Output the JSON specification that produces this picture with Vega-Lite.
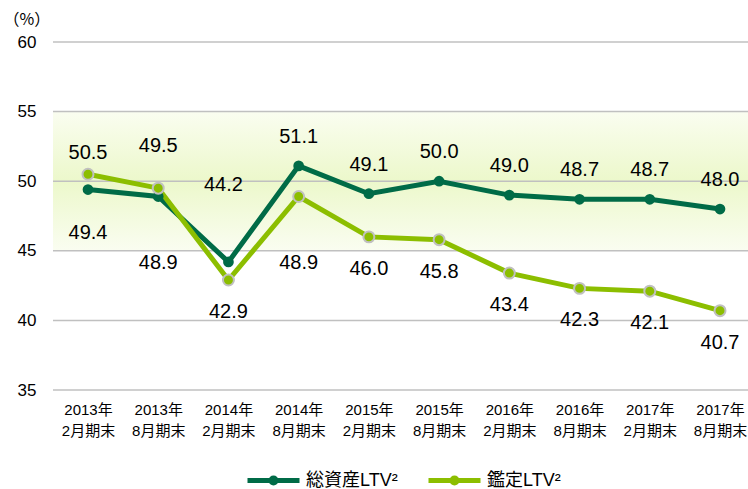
{
  "$schema": "https://vega.github.io/schema/vega-lite/v6.json",
  "width": 695,
  "height": 348,
  "autosize": {"type": "none"},
  "padding": {"left": 53, "top": 42, "right": 0, "bottom": 99},
  "background": "white",
  "config": {
    "view": {"stroke": null},
    "font": "Liberation Sans",
    "axisY": {"grid": false, "domain": false, "ticks": false, "labelPadding": 17, "labelFontSize": 17, "labelColor": "#000", "labelFont": "Liberation Sans", "titleAngle": 0, "titleAlign": "left", "titleBaseline": "middle", "titleX": -50, "titleY": -23, "titleFontSize": 16, "titleFontWeight": "normal", "titleFont": "Noto Sans CJK JP", "titleColor": "#000"},
    "axisX": {"domain": false, "ticks": false, "grid": false, "labelPadding": 12, "labelFontSize": 15, "labelLineHeight": 21, "labelColor": "#000", "labelFont": "Liberation Sans, Noto Sans CJK JP", "labelAngle": 0}
  },
  "datasets": {
    "ltv": [
      {"period": "2013年2月期末", "series": "総資産LTV²", "value": 49.4},
      {"period": "2013年8月期末", "series": "総資産LTV²", "value": 48.9},
      {"period": "2014年2月期末", "series": "総資産LTV²", "value": 44.2},
      {"period": "2014年8月期末", "series": "総資産LTV²", "value": 51.1},
      {"period": "2015年2月期末", "series": "総資産LTV²", "value": 49.1},
      {"period": "2015年8月期末", "series": "総資産LTV²", "value": 50.0},
      {"period": "2016年2月期末", "series": "総資産LTV²", "value": 49.0},
      {"period": "2016年8月期末", "series": "総資産LTV²", "value": 48.7},
      {"period": "2017年2月期末", "series": "総資産LTV²", "value": 48.7},
      {"period": "2017年8月期末", "series": "総資産LTV²", "value": 48.0},
      {"period": "2013年2月期末", "series": "鑑定LTV²", "value": 50.5},
      {"period": "2013年8月期末", "series": "鑑定LTV²", "value": 49.5},
      {"period": "2014年2月期末", "series": "鑑定LTV²", "value": 42.9},
      {"period": "2014年8月期末", "series": "鑑定LTV²", "value": 48.9},
      {"period": "2015年2月期末", "series": "鑑定LTV²", "value": 46.0},
      {"period": "2015年8月期末", "series": "鑑定LTV²", "value": 45.8},
      {"period": "2016年2月期末", "series": "鑑定LTV²", "value": 43.4},
      {"period": "2016年8月期末", "series": "鑑定LTV²", "value": 42.3},
      {"period": "2017年2月期末", "series": "鑑定LTV²", "value": 42.1},
      {"period": "2017年8月期末", "series": "鑑定LTV²", "value": 40.7}
    ],
    "grid": [{"g": 35}, {"g": 40}, {"g": 45}, {"g": 50}, {"g": 55}, {"g": 60}]
  },
  "layer": [
    {
      "data": {"values": [{}]},
      "mark": {"type": "rect", "color": {"gradient": "linear", "x1": 0, "y1": 0, "x2": 0, "y2": 1, "stops": [{"offset": 0, "color": "#fafdf0"}, {"offset": 0.5, "color": "#ecf8cb"}, {"offset": 1, "color": "#fafdf1"}]}},
      "encoding": {
        "y": {"datum": 55, "type": "quantitative", "scale": {"domain": [35, 60], "nice": false, "zero": false}, "title": "（%）"},
        "y2": {"datum": 45}
      }
    },
    {
      "data": {"name": "grid"},
      "mark": {"type": "rule", "color": "#c0c0c0", "strokeWidth": 1.5},
      "encoding": {
        "y": {"field": "g", "type": "quantitative", "title": "（%）"}
      }
    },
    {
      "data": {"name": "ltv"},
      "mark": {"type": "line", "strokeWidth": 5},
      "encoding": {
        "x": {"field": "period", "type": "ordinal", "sort": null, "title": null, "scale": {"type": "point", "range": [35, 667], "padding": 0}, "axis": {"labelExpr": "[slice(datum.label, 0, 5), slice(datum.label, 5)]"}},
        "y": {"field": "value", "type": "quantitative", "title": "（%）", "axis": {"values": [35, 40, 45, 50, 55, 60]}},
        "color": {"field": "series", "type": "nominal", "scale": {"domain": ["総資産LTV²", "鑑定LTV²"], "range": ["#006b47", "#8cbe00"]},
          "legend": {"orient": "none", "legendX": 192, "legendY": 410, "direction": "horizontal", "title": null, "symbolType": "M-1,0L1,0M0.096,0A0.096,0.096,0,1,1,-0.096,0A0.096,0.096,0,1,1,0.096,0", "symbolSize": 2704, "symbolStrokeWidth": 5, "labelFontSize": 18, "labelFont": "Liberation Sans, Noto Sans CJK JP", "labelColor": "#000", "labelOffset": 4, "columnPadding": 20, "padding": 0}}
      }
    },
    {
      "data": {"name": "ltv"},
      "transform": [{"filter": "datum.series === '総資産LTV²'"}],
      "mark": {"type": "point", "filled": true, "size": 115, "color": "#006b47", "opacity": 1},
      "encoding": {
        "x": {"field": "period", "type": "ordinal", "sort": null},
        "y": {"field": "value", "type": "quantitative", "title": "（%）"}
      }
    },
    {
      "data": {"name": "ltv"},
      "transform": [{"filter": "datum.series === '鑑定LTV²'"}],
      "mark": {"type": "point", "filled": true, "size": 120, "fill": "#8cbe00", "stroke": "#c0c0c0", "strokeWidth": 2, "opacity": 1},
      "encoding": {
        "x": {"field": "period", "type": "ordinal", "sort": null},
        "y": {"field": "value", "type": "quantitative", "title": "（%）"}
      }
    },
    {
      "data": {"name": "ltv"},
      "transform": [{"filter": "datum.series === '総資産LTV²' && indexof(['2013年2月期末', '2013年8月期末', '2014年2月期末'], datum.period) < 0"}],
      "mark": {"type": "text", "dy": -29, "fontSize": 20, "font": "Liberation Sans", "color": "#000", "baseline": "middle"},
      "encoding": {
        "x": {"field": "period", "type": "ordinal", "sort": null},
        "y": {"field": "value", "type": "quantitative", "title": "（%）"},
        "text": {"field": "value", "type": "quantitative", "format": ".1f"}
      }
    },
    {
      "data": {"name": "ltv"},
      "transform": [{"filter": "datum.series === '鑑定LTV²' && indexof(['2013年2月期末', '2013年8月期末', '2014年8月期末'], datum.period) < 0"}],
      "mark": {"type": "text", "dy": 32, "fontSize": 20, "font": "Liberation Sans", "color": "#000", "baseline": "middle"},
      "encoding": {
        "x": {"field": "period", "type": "ordinal", "sort": null},
        "y": {"field": "value", "type": "quantitative", "title": "（%）"},
        "text": {"field": "value", "type": "quantitative", "format": ".1f"}
      }
    },
    {
      "data": {"name": "ltv"},
      "transform": [{"filter": "(datum.series === '総資産LTV²' && datum.period === '2013年8月期末') || (datum.series === '鑑定LTV²' && datum.period === '2014年8月期末')"}],
      "mark": {"type": "text", "dy": 66, "fontSize": 20, "font": "Liberation Sans", "color": "#000", "baseline": "middle"},
      "encoding": {
        "x": {"field": "period", "type": "ordinal", "sort": null},
        "y": {"field": "value", "type": "quantitative", "title": "（%）"},
        "text": {"field": "value", "type": "quantitative", "format": ".1f"}
      }
    },
    {
      "data": {"name": "ltv"},
      "transform": [{"filter": "datum.series === '総資産LTV²' && datum.period === '2013年2月期末'"}],
      "mark": {"type": "text", "dy": 43, "fontSize": 20, "font": "Liberation Sans", "color": "#000", "baseline": "middle"},
      "encoding": {
        "x": {"field": "period", "type": "ordinal", "sort": null},
        "y": {"field": "value", "type": "quantitative", "title": "（%）"},
        "text": {"field": "value", "type": "quantitative", "format": ".1f"}
      }
    },
    {
      "data": {"name": "ltv"},
      "transform": [{"filter": "datum.series === '総資産LTV²' && datum.period === '2014年2月期末'"}],
      "mark": {"type": "text", "dy": -77, "dx": -5, "fontSize": 20, "font": "Liberation Sans", "color": "#000", "baseline": "middle"},
      "encoding": {
        "x": {"field": "period", "type": "ordinal", "sort": null},
        "y": {"field": "value", "type": "quantitative", "title": "（%）"},
        "text": {"field": "value", "type": "quantitative", "format": ".1f"}
      }
    },
    {
      "data": {"name": "ltv"},
      "transform": [{"filter": "datum.series === '鑑定LTV²' && datum.period === '2013年2月期末'"}],
      "mark": {"type": "text", "dy": -21, "fontSize": 20, "font": "Liberation Sans", "color": "#000", "baseline": "middle"},
      "encoding": {
        "x": {"field": "period", "type": "ordinal", "sort": null},
        "y": {"field": "value", "type": "quantitative", "title": "（%）"},
        "text": {"field": "value", "type": "quantitative", "format": ".1f"}
      }
    },
    {
      "data": {"name": "ltv"},
      "transform": [{"filter": "datum.series === '鑑定LTV²' && datum.period === '2013年8月期末'"}],
      "mark": {"type": "text", "dy": -42, "fontSize": 20, "font": "Liberation Sans", "color": "#000", "baseline": "middle"},
      "encoding": {
        "x": {"field": "period", "type": "ordinal", "sort": null},
        "y": {"field": "value", "type": "quantitative", "title": "（%）"},
        "text": {"field": "value", "type": "quantitative", "format": ".1f"}
      }
    }
  ]
}
